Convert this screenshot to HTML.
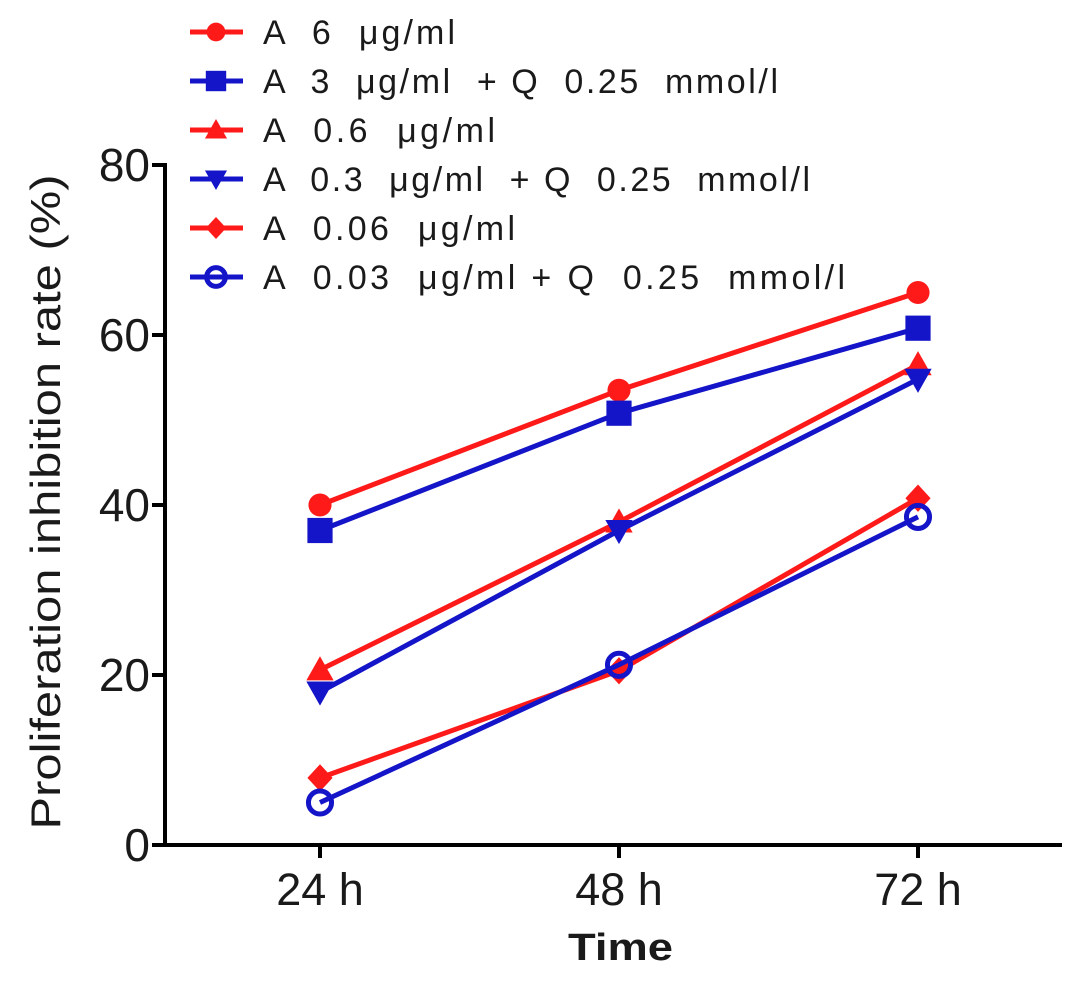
<!DOCTYPE html>
<html><head><meta charset="utf-8"><style>
body{margin:0;background:#fff}
svg text{font-family:"Liberation Sans",sans-serif;fill:#1a1a1a}
</style></head><body>
<svg id="chart" width="1087" height="977" viewBox="0 0 1087 977"></svg>
<script>
const categories=["24 h","48 h","72 h"];
const yTicks=[0,20,40,60,80];
const seriesNames=["A  6  μg/ml","A  3  μg/ml  + Q  0.25  mmol/l","A  0.6  μg/ml","A  0.3  μg/ml  + Q  0.25  mmol/l","A  0.06  μg/ml","A  0.03  μg/ml + Q  0.25  mmol/l"];
const s1=[40,53.5,65];
const s2=[37,50.8,60.8];
const s3=[20.6,38,56.5];
const s4=[18,37,54.8];
const s5=[7.9,20.5,40.8];
const s6=[5,21.2,38.6];
const series=[s1,s2,s3,s4,s5,s6];
const legendWidths=[192,515,232,547,252,582];
const colors=["#ff1a1a","#1414c8","#ff1a1a","#1414c8","#ff1a1a","#1414c8"];
const markers=["circle","square","triangle","tridown","diamond","ocircle"];
const NS="http://www.w3.org/2000/svg";
const svg=document.getElementById('chart');
function el(t,a,p){const e=document.createElementNS(NS,t);for(const k in a)e.setAttribute(k,a[k]);(p||svg).appendChild(e);return e;}
const y0=845,y80=165;
function ys(v){return y0-(v/80)*(y0-y80);}
function xs(i){return 320+i*299;}
let ax=el('line',{x1:165,y1:163,x2:165,y2:847,stroke:'#000','stroke-width':4});


ax=el('line',{x1:163,y1:845,x2:1062,y2:845,stroke:'#000','stroke-width':4});


yTicks.forEach(v=>{
 el('line',{x1:152,y1:ys(v),x2:165,y2:ys(v),stroke:'#000','stroke-width':4});
 const t=el('text',{x:150,y:ys(v)+16,'text-anchor':'end','font-size':46});
 t.textContent=v;
 
 
});
categories.forEach((c,i)=>{
 el('line',{x1:xs(i),y1:845,x2:xs(i),y2:858,stroke:'#000','stroke-width':4});
 const t=el('text',{x:xs(i),y:905,'text-anchor':'middle','font-size':45});
 t.textContent=c;
 
 
});
let t=el('text',{x:568,y:960,'font-size':38,'font-weight':'bold',textLength:105,lengthAdjust:'spacingAndGlyphs'});
t.textContent='Time';


t=el('text',{x:0,y:0,'text-anchor':'middle','font-size':42,textLength:655,lengthAdjust:'spacingAndGlyphs',transform:'translate(60,502) rotate(-90)'});
t.textContent='Proliferation inhibition rate  (%)';


function marker(type,x,y,c,g,s){
 s=s||1;
 if(type==='circle')el('circle',{cx:x,cy:y,r:11*s,fill:c},g);
 else if(type==='square')el('rect',{x:x-12*s,y:y-12*s,width:24*s,height:24*s,fill:c},g);
 else if(type==='triangle')el('polygon',{points:`${x},${y-13*s} ${x+13*s},${y+10*s} ${x-13*s},${y+10*s}`,fill:c},g);
 else if(type==='tridown')el('polygon',{points:`${x},${y+13*s} ${x+13*s},${y-10*s} ${x-13*s},${y-10*s}`,fill:c},g);
 else if(type==='diamond')el('polygon',{points:`${x},${y-13*s} ${x+12*s},${y} ${x},${y+13*s} ${x-12*s},${y}`,fill:c},g);
 else el('circle',{cx:x,cy:y,r:11*s,fill:'none',stroke:c,'stroke-width':5},g);
}
series.forEach((d,k)=>{
 const g=el('g',{});
 
 
 el('polyline',{points:d.map((v,i)=>xs(i)+','+ys(v)).join(' '),fill:'none',stroke:colors[k],'stroke-width':5},g);
 d.forEach((v,i)=>marker(markers[k],xs(i),ys(v),colors[k],g,1.05));
});
seriesNames.forEach((n,k)=>{
 const y=32+k*49;
 const g=el('g',{});
 
 
 el('line',{x1:190,y1:y,x2:243,y2:y,stroke:colors[k],'stroke-width':5},g);
 marker(markers[k],216,y,colors[k],g,0.85);
 const tx=el('text',{x:263,y:y+12,'font-size':34,textLength:legendWidths[k],lengthAdjust:'spacing'},g);
 tx.setAttribute('style','white-space:pre');
 tx.textContent=n;
});
</script>
</body></html>
